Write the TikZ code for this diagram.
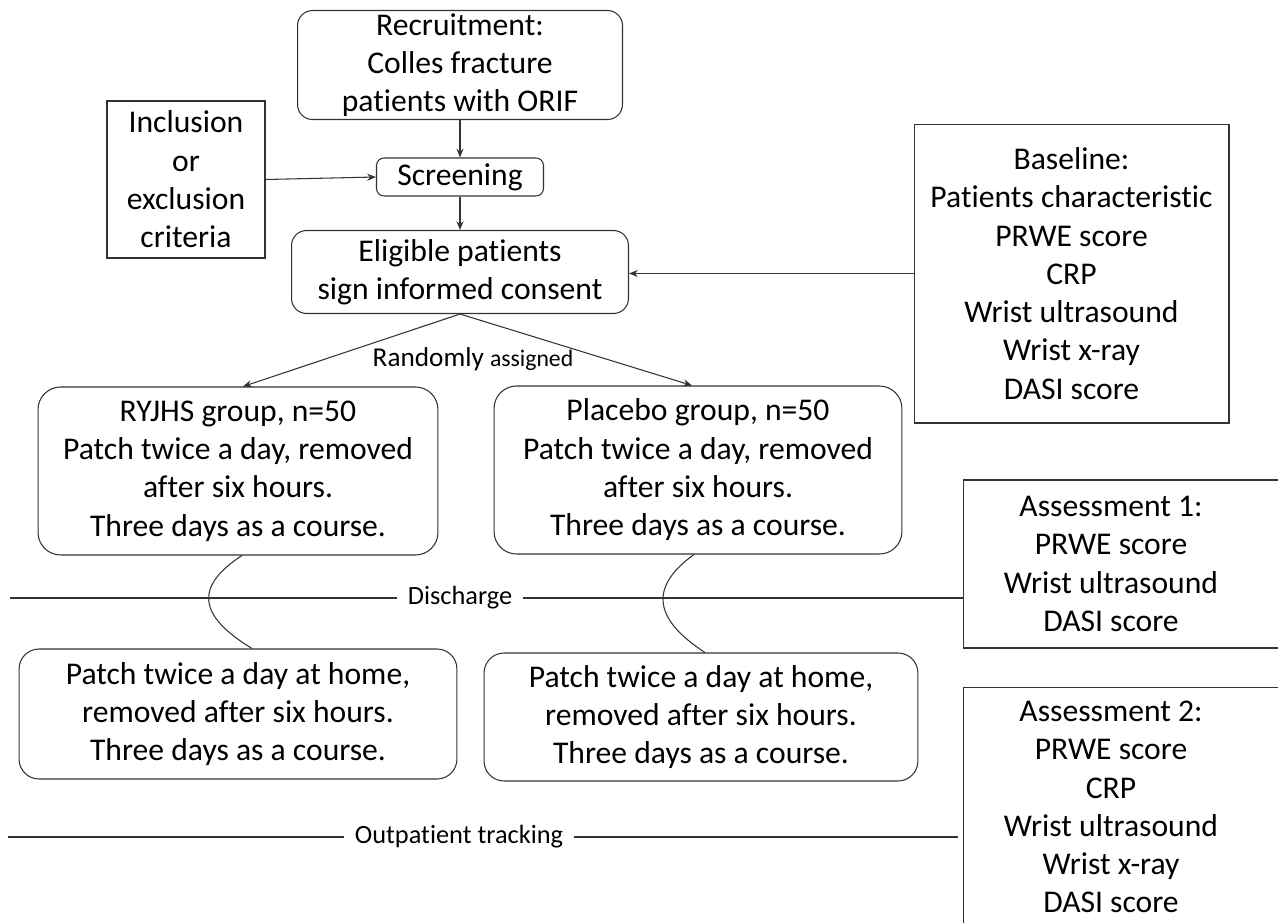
\documentclass[tikz,border=0pt]{standalone}
\usepackage{fontspec}
\setmainfont{Carlito}[Ligatures=NoCommon]
\usetikzlibrary{arrows.meta}
\colorlet{linegray}{black!80}

\begin{document}
\begin{tikzpicture}[x=0.02cm,y=-0.02cm,line width=0.6pt,
  every node/.style={font=\fontsize{18}{21.8}\selectfont,align=center,inner sep=0pt},
  rbox/.style={draw=linegray,rounded corners=0.45cm},
  sbox/.style={draw=linegray},
  arr/.style={draw=linegray,-{Stealth[length=5pt,width=4pt]}},
  wave/.style={draw=linegray},
  tag/.style={font=\fontsize{15}{18}\selectfont,inner xsep=6pt}]

\useasboundingbox (0,0) rectangle (1278,923);
\clip (0,0) rectangle (1278,923);

% Recruitment and screening
\node[rbox,rounded corners=0.3cm,minimum width=6.5cm,minimum height=2.18cm] (recruit) at (460,65) {Recruitment:\\Colles fracture\\patients with ORIF};
\node[rbox,rounded corners=0.15cm,minimum width=3.34cm,minimum height=0.76cm] (screen) at (460,177) {Screening};
\node[sbox,minimum width=3.16cm,minimum height=3.14cm] (criteria) at (186,179.5) {Inclusion\\or\\exclusion\\criteria};
\node[rbox,rounded corners=0.3cm,minimum width=6.74cm,minimum height=1.66cm] (eligible) at (460,272) {Eligible patients\\sign informed consent};
\node[sbox,minimum width=6.3cm,minimum height=5.98cm] (baseline) at (1071.5,273.5) {Baseline:\\Patients characteristic\\PRWE score\\CRP\\Wrist ultrasound\\Wrist x-ray\\DASI score};

\draw[arr] (recruit.south) -- (screen.north);
\draw[arr] (screen.south) -- (eligible.north);
\draw[arr] (criteria.east) -- (screen.west);
\draw[arr] (baseline.west) -- (baseline.west -| eligible.east);

% Two groups
\node[rbox,minimum width=8cm,minimum height=3.36cm] (ryjhs) at (238,471) {RYJHS group, n=50\\Patch twice a day, removed\\after six hours.\\Three days as a course.};
\node[rbox,minimum width=8.16cm,minimum height=3.36cm] (placebo) at (698,470) {Placebo group, n=50\\Patch twice a day, removed\\after six hours.\\Three days as a course.};
\node (random) at (473,359) {\fontsize{15.5}{18}\selectfont Randomly \fontsize{13.5}{16}\selectfont assigned};

\draw[arr] (eligible.south) -- ([xshift=0.1cm]ryjhs.north);
\draw[arr] (eligible.south) -- ([xshift=-0.12cm]placebo.north);

% Home treatment
\node[rbox,rounded corners=0.4cm,minimum width=8.76cm,minimum height=2.6cm] (homeA) at (238,714) {Patch twice a day at home,\\removed after six hours.\\Three days as a course.};
\node[rbox,rounded corners=0.4cm,minimum width=8.68cm,minimum height=2.56cm] (homeB) at (701,717) {Patch twice a day at home,\\removed after six hours.\\Three days as a course.};

\draw[wave] ([xshift=0.08cm]ryjhs.south) .. controls ([xshift=-0.84cm,yshift=-0.6cm]ryjhs.south) and ([xshift=-0.84cm,yshift=0.68cm]homeA.north) .. ([xshift=0.28cm]homeA.north);
\draw[wave] ([xshift=-0.08cm]placebo.south) .. controls ([xshift=-0.94cm,yshift=-0.62cm]placebo.south) and ([xshift=-1cm,yshift=0.7cm]homeB.north) .. ([xshift=0.08cm]homeB.north);

% Assessments
\node[sbox,minimum width=6.54cm,minimum height=3.36cm,
  label={[xshift=-0.31cm]center:Assessment 1:\\PRWE score\\Wrist ultrasound\\DASI score}] (assessA) at (1126.5,564) {};
\node[sbox,minimum width=6.54cm,minimum height=5.26cm,
  label={[xshift=-0.31cm,yshift=0.23cm]center:Assessment 2:\\PRWE score\\CRP\\Wrist ultrasound\\Wrist x-ray\\DASI score}] (assessB) at (1126.5,818.5) {};

% Time lines
\coordinate (dl) at (10,598);
\node[tag] (discharge) at (460,598) {Discharge};
\draw[wave] (dl) -- (discharge.west);
\draw[wave] (discharge.east) -- (discharge.east -| assessA.west);

\coordinate (ol) at (8,837);
\node[tag] (tracking) at (459,837) {Outpatient tracking};
\draw[wave] (ol) -- (tracking.west);
\draw[wave] (tracking.east) -- ([xshift=-0.1cm]tracking.east -| assessB.west);

\end{tikzpicture}
\end{document}
